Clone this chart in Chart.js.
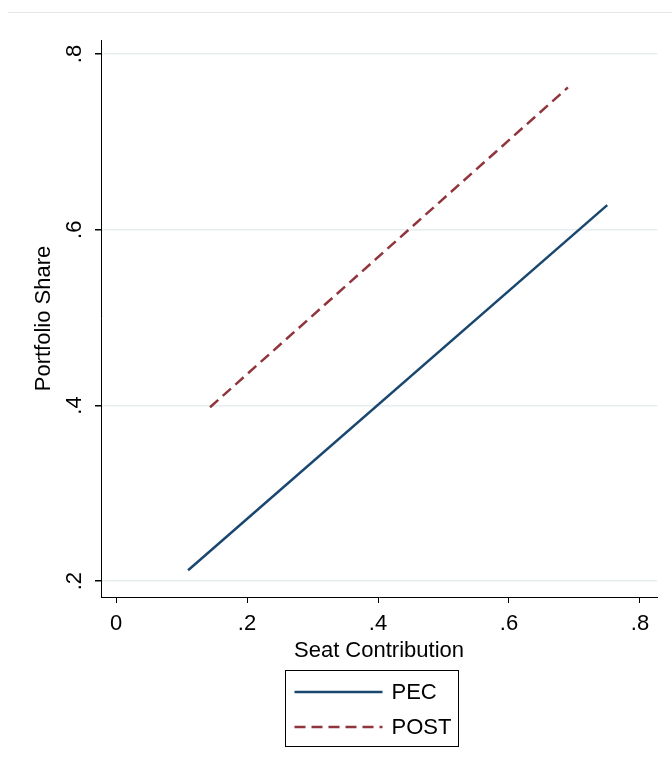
<!DOCTYPE html>
<html>
<head>
<meta charset="utf-8">
<script src="https://cdn.jsdelivr.net/npm/chart.js@4.4.1/dist/chart.umd.min.js"></script>
<style>
    body { margin: 0; background: #fff; }
    canvas { display: block; }
</style>
</head>
<body>
<canvas id="shareChart" width="672" height="773"></canvas>
<script>
// Fitted lines (seat contribution -> portfolio share)
const seriesNames = ['PEC', 'POST'];
const pecX = [0.110, 0.750];
const pecY = [0.2125, 0.628];
const postX = [0.1435, 0.690];
const postY = [0.398, 0.762];

const xTickValues = [0, 0.2, 0.4, 0.6, 0.8];
const xTickLabels = ['0', '.2', '.4', '.6', '.8'];
const yTickValues = [0.2, 0.4, 0.6, 0.8];
const yTickLabels = ['.2', '.4', '.6', '.8'];

const FONT = "'Liberation Sans', Arial, sans-serif";

function toPoints(xs, ys) {
    return xs.map((x, i) => ({ x: x, y: ys[i] }));
}

function labelFor(values, labels) {
    return function(value) {
        const i = values.findIndex(v => Math.abs(v - value) < 1e-9);
        return i >= 0 ? labels[i] : '';
    };
}

// Stata-style legend box under the plot, plus the faint rule at the top
const stataLegend = {
    id: 'stataLegend',
    afterDraw(chart) {
        const ctx = chart.ctx;
        ctx.save();

        ctx.strokeStyle = '#e2e8ea';
        ctx.lineWidth = 1;
        ctx.beginPath();
        ctx.moveTo(8, 12.5);
        ctx.lineTo(chart.width, 12.5);
        ctx.stroke();

        const box = { x: 285.5, y: 670.5, w: 173, h: 76 };
        ctx.strokeStyle = '#000';
        ctx.lineWidth = 1;
        ctx.strokeRect(box.x, box.y, box.w, box.h);

        ctx.font = '22px ' + FONT;
        ctx.fillStyle = '#000';
        ctx.textBaseline = 'middle';
        chart.data.datasets.forEach((ds, i) => {
            const y = box.y + 21.5 + i * 35;
            ctx.strokeStyle = ds.borderColor;
            ctx.lineWidth = ds.borderWidth;
            ctx.setLineDash(ds.borderDash || []);
            ctx.beginPath();
            ctx.moveTo(box.x + 9, y);
            ctx.lineTo(box.x + 97, y);
            ctx.stroke();
            ctx.setLineDash([]);
            ctx.fillText(ds.label, box.x + 106, y + 1);
        });
        ctx.restore();
    }
};

const ctx = document.getElementById('shareChart').getContext('2d');
new Chart(ctx, {
    type: 'line',
    data: {
        datasets: [
            {
                label: seriesNames[0],
                data: toPoints(pecX, pecY),
                borderColor: '#1a476f',
                borderWidth: 2.5,
                pointRadius: 0,
                fill: false
            },
            {
                label: seriesNames[1],
                data: toPoints(postX, postY),
                borderColor: '#90353b',
                borderWidth: 2.5,
                borderDash: [11, 6],
                pointRadius: 0,
                fill: false
            }
        ]
    },
    options: {
        responsive: false,
        animation: false,
        layout: { padding: { top: 40, right: 15, left: 0, bottom: 0 } },
        plugins: {
            legend: { display: false },
            tooltip: { enabled: false }
        },
        scales: {
            x: {
                type: 'linear',
                min: -0.023,
                max: 0.826,
                afterBuildTicks: scale => {
                    scale.ticks = xTickValues.map(v => ({ value: v }));
                },
                afterFit: scale => { scale.height = 176; },
                ticks: {
                    callback: labelFor(xTickValues, xTickLabels),
                    color: '#000',
                    font: { family: FONT, size: 22 },
                    padding: 8,
                    maxRotation: 0,
                    autoSkip: false
                },
                grid: { drawOnChartArea: false, tickLength: 6, tickColor: '#000' },
                border: { color: '#000', width: 1 },
                title: {
                    display: true,
                    text: 'Seat Contribution',
                    color: '#000',
                    font: { family: FONT, size: 22 },
                    padding: { top: 0, bottom: 109 }
                }
            },
            y: {
                type: 'linear',
                min: 0.182,
                max: 0.816,
                afterBuildTicks: scale => {
                    scale.ticks = yTickValues.map(v => ({ value: v }));
                },
                afterFit: scale => { scale.width = 101; },
                ticks: {
                    callback: labelFor(yTickValues, yTickLabels),
                    color: '#000',
                    font: { family: FONT, size: 22 },
                    padding: 11,
                    minRotation: 90,
                    maxRotation: 90,
                    crossAlign: 'center',
                    autoSkip: false
                },
                grid: { color: '#e6eef0', lineWidth: 1.5, tickLength: 6, tickColor: '#000' },
                border: { color: '#000', width: 1 },
                title: {
                    display: true,
                    text: 'Portfolio Share',
                    color: '#000',
                    font: { family: FONT, size: 22 },
                    padding: { top: 31, bottom: 0 }
                }
            }
        }
    },
    plugins: [stataLegend]
});
</script>
</body>
</html>
